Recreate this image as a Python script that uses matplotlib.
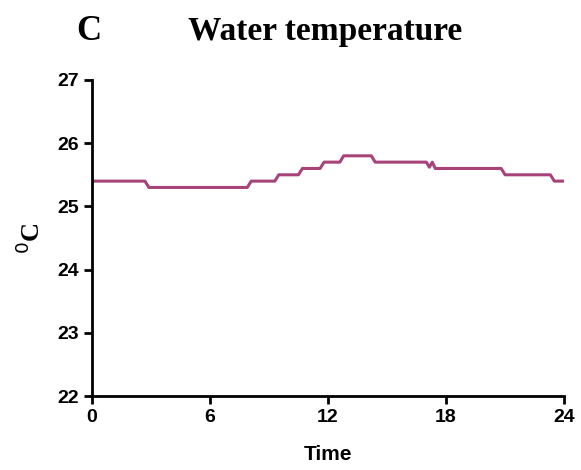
import matplotlib
matplotlib.use("Agg")
import matplotlib.pyplot as plt

# hours and water temperature (degC), vertices of the logged trace
hours = [0, 2.7, 2.9, 7.9, 8.1, 9.3, 9.5, 10.5, 10.7, 11.6, 11.8, 12.6, 12.8,
         14.2, 14.4, 17.0, 17.15, 17.3, 17.45, 17.6, 20.8, 21.0, 23.3, 23.5, 24]
temp = [25.4, 25.4, 25.3, 25.3, 25.4, 25.4, 25.5, 25.5, 25.6, 25.6, 25.7, 25.7, 25.8,
        25.8, 25.7, 25.7, 25.62, 25.7, 25.6, 25.6, 25.6, 25.5, 25.5, 25.4, 25.4]

x_ticks = [0, 6, 12, 18, 24]
y_ticks = [22, 23, 24, 25, 26, 27]

tick_font = ["Liberation Sans Narrow", "Liberation Sans", "DejaVu Sans"]
serif_font = ["Liberation Serif", "DejaVu Serif"]

fig = plt.figure(figsize=(5.81, 4.70), dpi=100)
ax = fig.add_axes([0.158, 0.157, 0.813, 0.673])

ax.plot(hours, temp, color="#a8437a", lw=2.2)

ax.set_xlim(0, 24)
ax.set_ylim(22, 27)
ax.set_xticks(x_ticks)
ax.set_yticks(y_ticks)

for s in ["top", "right"]:
    ax.spines[s].set_visible(False)
for s in ["left", "bottom"]:
    ax.spines[s].set_linewidth(2)
ax.tick_params(direction="out", length=6, width=2, pad=3)
for lab in ax.get_xticklabels() + ax.get_yticklabels():
    lab.set_family(tick_font)
    lab.set_fontsize(14)
    lab.set_fontweight("bold")

ax.set_xlabel("Time", family=tick_font, fontsize=15, fontweight="bold", labelpad=14)
ax.set_ylabel(r"$^{0}$C", family=serif_font, fontsize=19, fontweight="bold",
              labelpad=9)

fig.text(0.153, 0.932, "C", family=serif_font, fontsize=25, fontweight="bold",
         ha="center", va="center")
fig.text(0.56, 0.932, "Water temperature", family=serif_font, fontsize=24,
         fontweight="bold", ha="center", va="center")

fig.savefig("out.png", dpi=100)
